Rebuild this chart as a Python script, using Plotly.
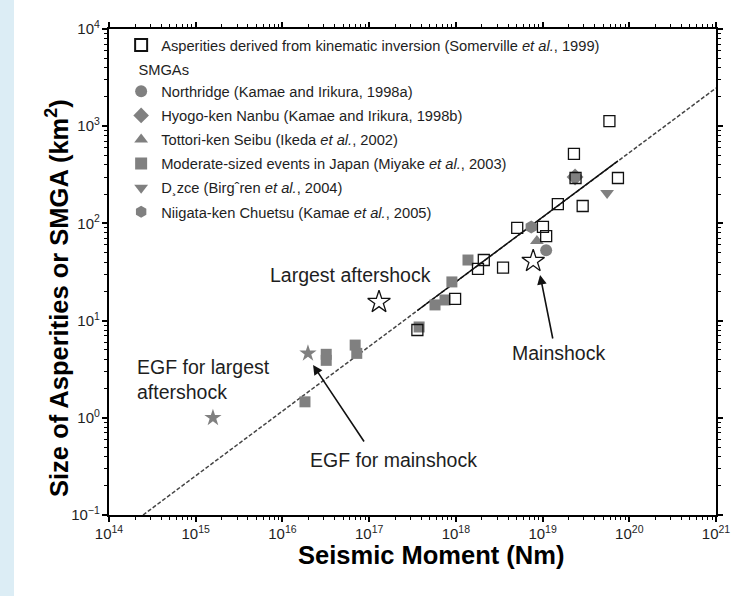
import plotly.graph_objects as go

# ---------------- data ----------------
x_range_exp = [14, 21]
y_range_exp = [-1, 4]
y_alias = {"1": "10<sup>0</sup>", "10": "10<sup>1</sup>"}

# Asperities derived from kinematic inversion (Somerville et al., 1999)
som_M = [5.9e19, 2.3e19, 7.4e19, 2.4e19, 1.5e19, 2.9e19, 5.1e18, 1.01e19,
         1.1e19, 2.1e18, 1.8e18, 3.5e18, 9.8e17, 3.6e17]
som_A = [1130, 518, 293, 293, 158, 151, 90, 92, 74, 42, 34, 35, 16.7, 8.0]

# SMGAs
north_M = [1.1e19]
north_A = [53]
hyogo_M = [2.37e19]
hyogo_A = [300]
tottori_M = [8.6e18]
tottori_A = [66]
miyake_M = [1.38e18, 9.0e17, 7.5e17, 5.75e17, 3.77e17, 6.9e16, 7.2e16,
            3.2e16, 3.2e16, 1.82e16]
miyake_A = [42, 25, 16.3, 14.5, 8.6, 5.6, 4.6, 4.5, 3.9, 1.46]
duzce_M = [5.55e19]
duzce_A = [206]
niigata_M = [7.4e18]
niigata_A = [92]

# Stars
open_star_M = [1.3e17, 7.8e18]      # largest aftershock, mainshock
open_star_A = [15.5, 41]
gray_star_M = [1.97e16, 1.58e15]    # EGF for mainshock, EGF for largest aftershock
gray_star_A = [4.6, 1.0]

# Scaling relation (dashed) and its solid part within the data range
line_M = [2.47e14, 1e21]
line_A = [0.1, 2470]
solid_M = [3.6e17, 7.4e19]
solid_A = [12.7, 440]

GRAY = "#808080"
TXT = "#1e1e1e"
FONT = "Liberation Sans, Arial, sans-serif"
LEG_SIZE = 14.7

fig = go.Figure()

# regression line
fig.add_trace(go.Scatter(x=line_M, y=line_A, mode="lines", showlegend=False,
                         line=dict(color="#444444", width=1.5, dash="4px,2px"),
                         hoverinfo="skip"))
fig.add_trace(go.Scatter(x=solid_M, y=solid_A, mode="lines", showlegend=False,
                         line=dict(color="#111111", width=1.5), hoverinfo="skip"))

# SMGA markers
def gray_trace(xs, ys, sym, name, size, group, rank, gtitle=None):
    kw = dict(x=xs, y=ys, mode="markers", name=name, legendgroup=group, legendrank=rank,
              marker=dict(symbol=sym, color=GRAY, size=size, line=dict(width=0)))
    if gtitle:
        kw["legendgrouptitle"] = dict(text=gtitle, font=dict(size=LEG_SIZE, color=TXT, family=FONT))
    return go.Scatter(**kw)

fig.add_trace(gray_trace(north_M, north_A, "circle", "Northridge (Kamae and Irikura, 1998a)", 12, "g2", 2,
                         "\u00a0\u00a0\u00a0SMGAs"))
fig.add_trace(gray_trace(hyogo_M, hyogo_A, "diamond", "Hyogo-ken Nanbu (Kamae and Irikura, 1998b)", 13, "g3", 3))
fig.add_trace(gray_trace(tottori_M, tottori_A, "triangle-up", "Tottori-ken Seibu (Ikeda <i>et al.</i>, 2002)", 12, "g4", 4))
fig.add_trace(gray_trace(miyake_M, miyake_A, "square", "Moderate-sized events in Japan (Miyake <i>et al.</i>, 2003)", 11, "g5", 5))
fig.add_trace(gray_trace(duzce_M, duzce_A, "triangle-down", "D\u00b8zce (Birg\u02c6ren <i>et al.</i>, 2004)", 12, "g6", 6))
fig.add_trace(gray_trace(niigata_M, niigata_A, "hexagon", "Niigata-ken Chuetsu (Kamae <i>et al.</i>, 2005)", 13, "g7", 7))

# Somerville asperities (open squares)
fig.add_trace(go.Scatter(x=som_M, y=som_A, mode="markers", legendgroup="g1", legendrank=1,
                         name="Asperities derived from kinematic inversion (Somerville <i>et al.</i>, 1999)",
                         marker=dict(symbol="square-open", color="#111111", size=11,
                                     line=dict(width=1.3, color="#111111"))))

# stars
fig.add_trace(go.Scatter(x=gray_star_M, y=gray_star_A, mode="markers", showlegend=False,
                         marker=dict(symbol="star", color=GRAY, size=13, line=dict(width=0))))
fig.add_trace(go.Scatter(x=open_star_M, y=open_star_A, mode="markers", showlegend=False,
                         marker=dict(symbol="star-open", color="#111111", size=17,
                                     line=dict(width=1.3, color="#111111"))))

tickfont = dict(family=FONT, size=12, color=TXT)
axis_common = dict(type="log", showline=True, linecolor="black", linewidth=1.5,
                   mirror="allticks", ticks="outside", ticklen=5, tickwidth=1.5,
                   tickcolor="#000000", showgrid=False, zeroline=False, tickfont=tickfont,
                   tickmode="linear", tick0=0, dtick=1, exponentformat="power",
                   showexponent="all", automargin=False,
                   minor=dict(ticks="outside", ticklen=3, tickwidth=1, tickcolor="#000000",
                              dtick="D1"))

fig.update_xaxes(**axis_common, range=x_range_exp)
fig.update_yaxes(**axis_common, range=y_range_exp, labelalias=y_alias)

ann_font = dict(family=FONT, size=19.5, color=TXT)
title_font = dict(family=FONT, size=25.5, color="black")
fig.update_layout(
    width=733, height=596,
    margin=dict(l=109, r=17, t=29, b=81, autoexpand=False),
    paper_bgcolor="white", plot_bgcolor="white",
    font=dict(family=FONT, color=TXT),
    showlegend=True,
    legend=dict(x=0.02, y=1.0, xanchor="left", yanchor="top",
                bgcolor="rgba(0,0,0,0)", borderwidth=0,
                font=dict(family=FONT, size=LEG_SIZE, color=TXT),
                traceorder="grouped", tracegroupgap=2,
                itemsizing="constant"),
    shapes=[dict(type="rect", xref="paper", yref="paper",
                 x0=-109 / 607, x1=-95 / 607, y0=-81 / 486, y1=515 / 486,
                 fillcolor="#dcedf5", line=dict(width=0), layer="below")],
    annotations=[
        dict(xref="paper", yref="paper", x=0.5305, y=-0.0823, text="<b>Seismic Moment (Nm)</b>",
             showarrow=False, font=title_font, xanchor="center", yanchor="middle"),
        dict(xref="paper", yref="paper", x=-0.0857, y=0.4465,
             text="<b>Size of Asperities or SMGA (km<sup>2</sup>)</b>", textangle=-90,
             showarrow=False, font=title_font, xanchor="center", yanchor="middle"),
        dict(x=16.79, y=1.469, text="Largest aftershock", showarrow=False, font=ann_font),
        dict(x=14.30, y=0.389, text="EGF for largest<br>aftershock", align="left",
             showarrow=False, font=ann_font, xanchor="left"),
        dict(x=17.276, y=-0.434, text="EGF for mainshock", showarrow=False, font=ann_font),
        dict(x=19.18, y=0.667, text="Mainshock", showarrow=False, font=ann_font),
        dict(x=16.353, y=0.543, ax=52, ay=78, text="", showarrow=True,
             arrowhead=2, arrowsize=1.2, arrowwidth=1.6, arrowcolor="#111111"),
        dict(x=18.971, y=1.469, ax=13, ay=65, text="", showarrow=True,
             arrowhead=2, arrowsize=1.2, arrowwidth=1.6, arrowcolor="#111111"),
    ],
)

fig.write_html("out.html")
